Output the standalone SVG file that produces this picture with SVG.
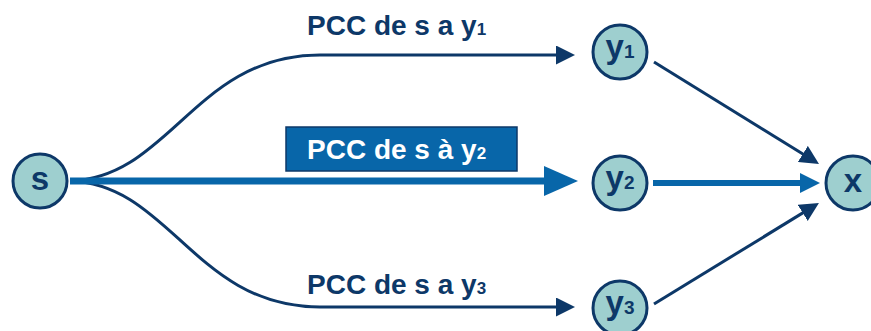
<svg xmlns="http://www.w3.org/2000/svg" width="871" height="331" viewBox="0 0 871 331">
<style>
.node circle{fill:#9ecfcf;stroke:#0d3868;stroke-width:3}
.nt{font-family:"Liberation Sans",Arial,sans-serif;font-weight:bold;font-size:33px;fill:#0d3868}
.sub{font-size:19px}
.lbl{font-family:"Liberation Sans",Arial,sans-serif;font-weight:bold;font-size:28px;fill:#0d3868}
.dk{fill:none;stroke:#0d3868;stroke-width:3}
.bl{fill:none;stroke:#0866a9}
</style>
<defs>
<marker id="ad" markerUnits="userSpaceOnUse" viewBox="0 0 19 19" refX="1" refY="9.5" markerWidth="19" markerHeight="19" orient="auto"><path d="M0,0 L19,9.5 L0,19 Z" fill="#0d3868"/></marker>
<marker id="ab" markerUnits="userSpaceOnUse" viewBox="0 0 34 30" refX="1" refY="15" markerWidth="34" markerHeight="30" orient="auto"><path d="M0,0 L34,15 L0,30 Z" fill="#0866a9"/></marker>
<marker id="ab2" markerUnits="userSpaceOnUse" viewBox="0 0 20 20" refX="1" refY="10" markerWidth="20" markerHeight="20" orient="auto"><path d="M0,0 L20,10 L0,20 Z" fill="#0866a9"/></marker>
</defs>
<g id="connectors">
<path class="dk" d="M70 181 C170 178 195 55 320 55 H557" marker-end="url(#ad)"/>
<path class="dk" d="M70 181 C170 184 195 307 320 307 H557" marker-end="url(#ad)"/>
<path class="bl" stroke-width="7" d="M70 181 H545" marker-end="url(#ab)"/>
<path class="dk" d="M654 62 L803.7 154.5" marker-end="url(#ad)"/>
<path class="bl" stroke-width="6" d="M653 183 L801 183" marker-end="url(#ab2)"/>
<path class="dk" d="M654 304 L803.6 212.4" marker-end="url(#ad)"/>
</g>
<g id="label1"><text class="lbl" x="307" y="35">PCC de s a y<tspan class="sub" style="font-size:17px">1</tspan></text></g>
<g id="label2"><rect x="286" y="127" width="231" height="44" fill="#0866a9" stroke="#0d3868" stroke-width="1.5"/><text class="lbl" x="307" y="159" style="fill:#ffffff">PCC de s à y<tspan style="font-size:17px">2</tspan></text></g>
<g id="label3"><text class="lbl" x="307" y="294">PCC de s a y<tspan style="font-size:17px">3</tspan></text></g>
<g id="s" class="node"><circle cx="40" cy="181" r="27"/><text class="nt" x="40" y="190" text-anchor="middle">s</text></g>
<g id="y1" class="node"><circle cx="620" cy="52" r="27"/><text class="nt" x="620" y="58" text-anchor="middle">y<tspan class="sub">1</tspan></text></g>
<g id="y2" class="node"><circle cx="620" cy="183" r="27"/><text class="nt" x="620" y="189" text-anchor="middle">y<tspan class="sub">2</tspan></text></g>
<g id="y3" class="node"><circle cx="620" cy="308" r="27"/><text class="nt" x="620" y="314" text-anchor="middle">y<tspan class="sub">3</tspan></text></g>
<g id="x" class="node"><circle cx="853" cy="183" r="27"/><text class="nt" x="853" y="192" text-anchor="middle">x</text></g>
</svg>
